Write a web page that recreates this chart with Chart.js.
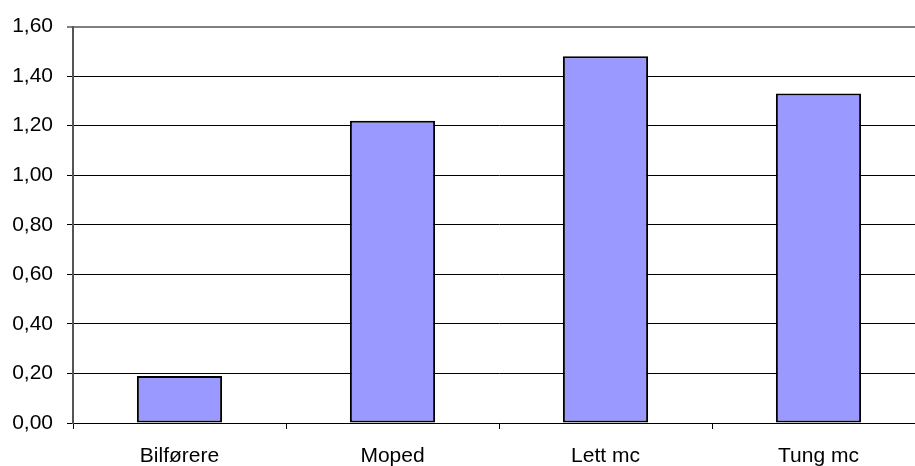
<!DOCTYPE html>
<html>
<head>
<meta charset="utf-8">
<script src="https://cdn.jsdelivr.net/npm/chart.js@4.4.0/dist/chart.umd.min.js"></script>
<style>
  html, body { margin: 0; padding: 0; background: #fff; overflow: hidden; }
  #wrap { width: 925px; height: 466px; }
</style>
</head>
<body>
<div id="wrap"><canvas id="chart"></canvas></div>
<script>
var categories = ['Bilførere', 'Moped', 'Lett mc', 'Tung mc'];
var values = [0.19, 1.22, 1.48, 1.33];

var ctx = document.getElementById('chart');

new Chart(ctx, {
  type: 'bar',
  data: {
    labels: categories,
    datasets: [{
      data: values,
      backgroundColor: '#9999FF',
      borderColor: '#000000',
      borderWidth: 2,
      borderSkipped: false,
      categoryPercentage: 1.0,
      barPercentage: 0.4
    }]
  },
  options: {
    responsive: true,
    maintainAspectRatio: false,
    animation: false,
    layout: { padding: { top: 24, right: 0, left: 0, bottom: 0 } },
    plugins: {
      legend: { display: false },
      tooltip: { enabled: false }
    },
    scales: {
      x: {
        offset: true,
        grid: {
          offset: true,
          drawOnChartArea: false,
          drawTicks: true,
          tickLength: 6,
          color: '#000000'
        },
        border: { color: '#000000', width: 1 },
        ticks: {
          color: '#000000',
          font: { family: 'Liberation Sans, Arial, sans-serif', size: 21 },
          padding: 15,
          maxRotation: 0
        },
        afterFit: function(scale) { scale.height = 43; }
      },
      y: {
        min: 0,
        max: 1.6,
        grid: {
          color: function(c) { return c.tick && c.tick.value >= 1.6 ? '#808080' : '#000000'; },
          lineWidth: function(c) { return c.tick && c.tick.value >= 1.6 ? 2 : 1; },
          tickLength: 6
        },
        border: { color: '#555555', width: 2 },
        ticks: {
          stepSize: 0.2,
          color: '#000000',
          font: { family: 'Liberation Sans, Arial, sans-serif', size: 21 },
          padding: 14,
          callback: function(v) { return v.toFixed(2).replace('.', ','); }
        },
        afterFit: function(scale) { scale.width = 73; }
      }
    }
  }
});
</script>
</body>
</html>
